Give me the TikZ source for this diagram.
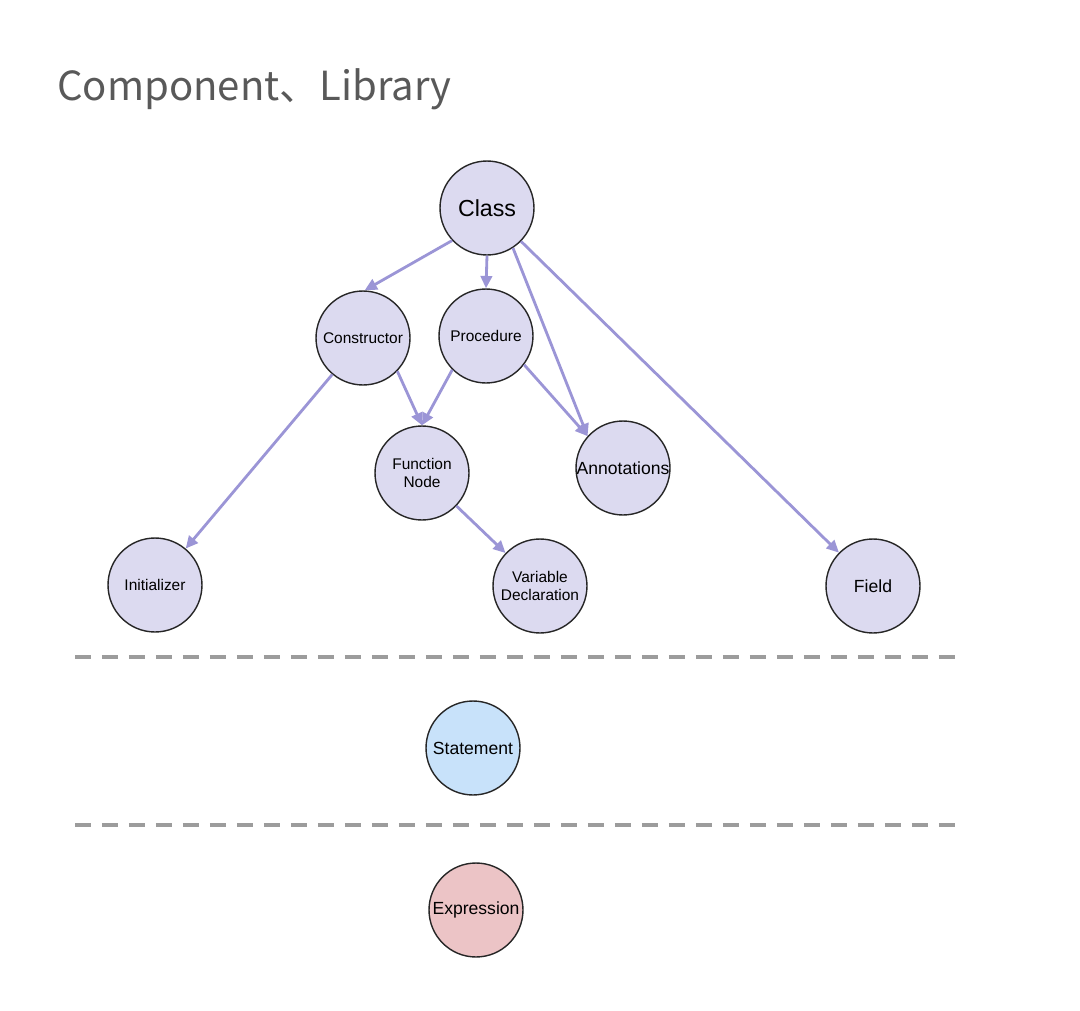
\documentclass[tikz,border=0pt]{standalone}
\usepackage{fontspec}
\setmainfont{Liberation Sans}
\newfontfamily\cjk{Noto Sans CJK SC}
\usetikzlibrary{arrows.meta}
\definecolor{lav}{HTML}{DCDAF0}
\definecolor{stmt}{HTML}{C8E2FA}
\definecolor{expr}{HTML}{ECC4C6}
\definecolor{edge}{HTML}{9B95D6}
\definecolor{sep}{HTML}{9C9C9C}
\definecolor{ttl}{HTML}{595959}
\begin{document}
\begin{tikzpicture}[x=0.02cm, y=-0.02cm,
  ast/.style={circle, draw=black!85, line width=0.8pt, fill=lav, minimum size=1.88cm,
    inner sep=0pt, align=center, font=\fontsize{8.8}{10.2}\selectfont},
  big/.style={font=\fontsize{10}{12}\selectfont},
  link/.style={-{Triangle[length=7pt,width=6.5pt]}, draw=edge, line width=1.6pt},
  layer/.style={draw=sep, line width=2.3pt, dash pattern=on 0.32cm off 0.22cm}]
  \useasboundingbox (0,0) rectangle (1080,1011);
  % title
  \node[anchor=base west, inner sep=0pt, text=ttl, font=\cjk\fontsize{22.8}{26}\selectfont] (title) at (57,100) {Component、Library};
  % nodes
  \node[ast, font=\fontsize{13.2}{15}\selectfont] (cls) at (487,208) {Class};
  \node[ast] (con) at (363,338) {Constructor};
  \node[ast] (proc) at (486,336) {Procedure};
  \node[ast] (fn) at (422,473) {Function\\Node};
  \node[ast, big] (ann) at (623,468) {Annotations};
  \node[ast] (init) at (155,585) {Initializer};
  \node[ast] (var) at (540,586) {Variable\\Declaration};
  \node[ast, big] (fld) at (873,586) {Field};
  \node[ast, big, fill=stmt] (stm) at (473,748) {Statement};
  \node[ast, big, fill=expr] (exp) at (476,910) {Expression};
  % edges
  \draw[link] (cls.-137) -- (con.88);
  \draw[link] (cls.south) -- (proc.north);
  \draw[link] (cls.-57) -- (ann.138);
  \draw[link] (cls) -- (fld);
  \draw[link] (proc.-37) -- (ann.138);
  \draw[link] (con) -- (init);
  \draw[link] (con.-44) -- (fn.north);
  \draw[link] (proc.-135) -- (fn.north);
  \draw[link] (fn) -- (var);
  % layers
  \coordinate (l1a) at (75,657); \coordinate (l1b) at (960,657);
  \coordinate (l2a) at (75,825); \coordinate (l2b) at (960,825);
  \draw[layer] (l1a) -- (l1b);
  \draw[layer] (l2a) -- (l2b);
\end{tikzpicture}
\end{document}
